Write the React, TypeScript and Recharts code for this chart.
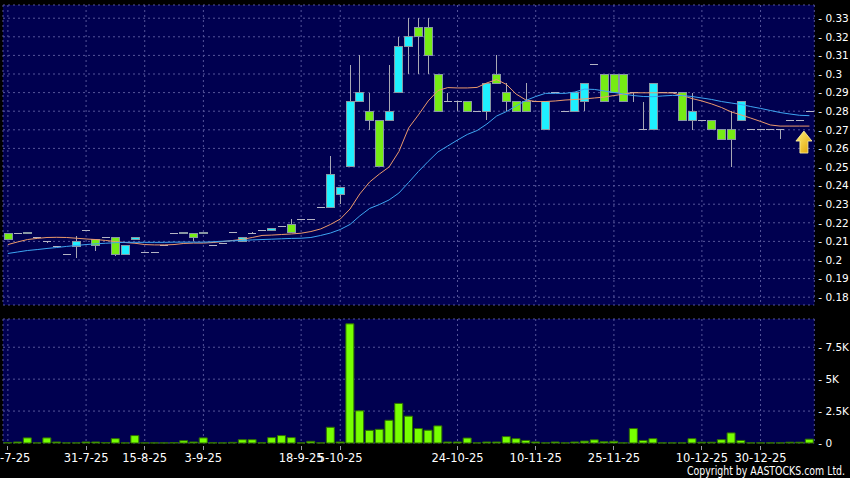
import { ComposedChart, Bar, Line, XAxis, YAxis, CartesianGrid, ReferenceDot } from "recharts";

// trading days shown on the chart (one slot per day)
const dates = [
  "21-7-25", "22-7-25", "23-7-25", "24-7-25", "25-7-25", "28-7-25", "29-7-25", "30-7-25", "31-7-25", "1-8-25",
  "4-8-25", "6-8-25", "8-8-25", "12-8-25", "15-8-25", "18-8-25", "20-8-25", "22-8-25", "26-8-25", "29-8-25",
  "3-9-25", "4-9-25", "5-9-25", "8-9-25", "9-9-25", "10-9-25", "11-9-25", "12-9-25", "15-9-25", "16-9-25",
  "18-9-25", "24-9-25", "29-9-25", "2-10-25", "5-10-25", "8-10-25", "9-10-25", "10-10-25", "13-10-25", "14-10-25",
  "15-10-25", "16-10-25", "17-10-25", "20-10-25", "21-10-25", "22-10-25", "24-10-25", "27-10-25", "28-10-25", "30-10-25",
  "31-10-25", "3-11-25", "5-11-25", "6-11-25", "10-11-25", "11-11-25", "12-11-25", "13-11-25", "14-11-25", "17-11-25",
  "19-11-25", "21-11-25", "25-11-25", "26-11-25", "27-11-25", "28-11-25", "1-12-25", "2-12-25", "3-12-25", "5-12-25",
  "8-12-25", "10-12-25", "11-12-25", "12-12-25", "15-12-25", "16-12-25", "23-12-25", "30-12-25", "2-1-26", "5-1-26",
  "6-1-26", "7-1-26", "8-1-26",
];

const tickDates = ["21-7-25", "31-7-25", "15-8-25", "3-9-25", "18-9-25", "5-10-25", "24-10-25", "10-11-25", "25-11-25", "10-12-25", "30-12-25"];

const open = [
  0.214, 0.214, 0.214, 0.212, 0.210, 0.207, 0.203, 0.207, 0.216, 0.211,
  0.212, 0.212, 0.203, 0.211, 0.204, 0.204, 0.208, 0.214, 0.214, 0.214,
  0.214, 0.208, 0.209, 0.215, 0.210, 0.214, 0.216, 0.216, 0.218, 0.219,
  0.222, 0.222, 0.228, 0.228, 0.235, 0.250, 0.285, 0.280, 0.275, 0.275,
  0.290, 0.315, 0.325, 0.325, 0.300, 0.285, 0.285, 0.285, 0.280, 0.280,
  0.300, 0.290, 0.285, 0.285, 0.285, 0.270, 0.290, 0.280, 0.280, 0.285,
  0.305, 0.300, 0.300, 0.300, 0.290, 0.270, 0.270, 0.290, 0.290, 0.290,
  0.275, 0.275, 0.275, 0.270, 0.270, 0.275, 0.270, 0.270, 0.270, 0.270,
  0.275, 0.275, 0.280,
];
const high = [
  0.214, 0.214, 0.215, 0.212, 0.210, 0.207, 0.203, 0.213, 0.216, 0.211,
  0.212, 0.212, 0.208, 0.212, 0.204, 0.204, 0.208, 0.214, 0.215, 0.214,
  0.215, 0.208, 0.209, 0.215, 0.212, 0.215, 0.216, 0.217, 0.218, 0.222,
  0.222, 0.222, 0.228, 0.256, 0.239, 0.305, 0.310, 0.290, 0.275, 0.305,
  0.320, 0.330, 0.330, 0.330, 0.300, 0.290, 0.285, 0.285, 0.280, 0.295,
  0.310, 0.295, 0.285, 0.295, 0.285, 0.285, 0.290, 0.280, 0.290, 0.295,
  0.305, 0.300, 0.300, 0.300, 0.290, 0.285, 0.295, 0.290, 0.290, 0.290,
  0.290, 0.275, 0.275, 0.270, 0.280, 0.285, 0.270, 0.270, 0.270, 0.270,
  0.275, 0.275, 0.280,
];
const low = [
  0.211, 0.214, 0.214, 0.212, 0.209, 0.207, 0.203, 0.201, 0.216, 0.205,
  0.212, 0.202, 0.203, 0.211, 0.204, 0.204, 0.208, 0.214, 0.214, 0.210,
  0.214, 0.208, 0.209, 0.215, 0.210, 0.214, 0.216, 0.216, 0.218, 0.215,
  0.222, 0.222, 0.228, 0.228, 0.230, 0.250, 0.285, 0.270, 0.250, 0.275,
  0.290, 0.300, 0.300, 0.300, 0.280, 0.285, 0.280, 0.280, 0.280, 0.275,
  0.295, 0.280, 0.280, 0.280, 0.285, 0.270, 0.290, 0.280, 0.280, 0.280,
  0.305, 0.285, 0.290, 0.285, 0.285, 0.270, 0.270, 0.290, 0.290, 0.275,
  0.270, 0.275, 0.270, 0.265, 0.250, 0.275, 0.270, 0.270, 0.270, 0.265,
  0.275, 0.275, 0.280,
];
const close = [
  0.211, 0.214, 0.215, 0.212, 0.210, 0.207, 0.203, 0.210, 0.216, 0.208,
  0.212, 0.203, 0.208, 0.212, 0.204, 0.204, 0.208, 0.214, 0.215, 0.212,
  0.215, 0.208, 0.209, 0.215, 0.212, 0.214, 0.216, 0.217, 0.218, 0.215,
  0.222, 0.222, 0.228, 0.246, 0.239, 0.285, 0.290, 0.275, 0.250, 0.280,
  0.315, 0.320, 0.320, 0.310, 0.280, 0.285, 0.285, 0.280, 0.280, 0.295,
  0.295, 0.285, 0.280, 0.280, 0.285, 0.285, 0.290, 0.280, 0.290, 0.295,
  0.305, 0.285, 0.290, 0.285, 0.290, 0.270, 0.295, 0.290, 0.290, 0.275,
  0.280, 0.275, 0.270, 0.265, 0.265, 0.285, 0.270, 0.270, 0.270, 0.270,
  0.275, 0.275, 0.280,
];

// moving averages (orange = short, blue = long)
const maShort = [
  0.2083, 0.2097, 0.2110, 0.2116, 0.2121, 0.2122, 0.2121, 0.2117, 0.2113, 0.2110,
  0.2105, 0.2099, 0.2094, 0.2090, 0.2083, 0.2081, 0.2081, 0.2083, 0.2089, 0.2091,
  0.2091, 0.2094, 0.2099, 0.2105, 0.2111, 0.2121, 0.2132, 0.2134, 0.2137, 0.2140,
  0.2144, 0.2153, 0.2167, 0.2191, 0.2220, 0.2274, 0.2355, 0.2419, 0.2462, 0.2500,
  0.2583, 0.2710, 0.2780, 0.2855, 0.2911, 0.2927, 0.2925, 0.2925, 0.2928, 0.2952,
  0.2970, 0.2944, 0.2892, 0.2860, 0.2852, 0.2852, 0.2855, 0.2860, 0.2863, 0.2866,
  0.2871, 0.2876, 0.2884, 0.2892, 0.2899, 0.2899, 0.2899, 0.2899, 0.2898, 0.2884,
  0.2868, 0.2855, 0.2839, 0.2820, 0.2796, 0.2780, 0.2763, 0.2745, 0.2726, 0.2720,
  0.2720, 0.2720, 0.2720,
];
const maLong = [
  0.2035, 0.2043, 0.2051, 0.2056, 0.2062, 0.2067, 0.2073, 0.2078, 0.2083, 0.2087,
  0.2090, 0.2093, 0.2095, 0.2095, 0.2095, 0.2095, 0.2095, 0.2096, 0.2096, 0.2096,
  0.2096, 0.2098, 0.2101, 0.2103, 0.2105, 0.2108, 0.2110, 0.2112, 0.2114, 0.2116,
  0.2117, 0.2121, 0.2132, 0.2145, 0.2164, 0.2191, 0.2237, 0.2277, 0.2298, 0.2323,
  0.2360, 0.2417, 0.2476, 0.2530, 0.2581, 0.2613, 0.2645, 0.2675, 0.2696, 0.2731,
  0.2774, 0.2798, 0.2828, 0.2858, 0.2879, 0.2896, 0.2896, 0.2896, 0.2903, 0.2919,
  0.2917, 0.2909, 0.2901, 0.2892, 0.2884, 0.2879, 0.2878, 0.2882, 0.2885, 0.2884,
  0.2879, 0.2871, 0.2863, 0.2852, 0.2844, 0.2836, 0.2825, 0.2815, 0.2804, 0.2793,
  0.2785, 0.2778, 0.2776,
];

const volume = [
  30, 80, 400, 10, 400, 80, 10, 10, 80, 80,
  30, 340, 10, 580, 10, 10, 10, 30, 180, 80,
  400, 20, 10, 50, 260, 260, 20, 420, 580, 420,
  10, 130, 10, 1230, 80, 9330, 2520, 990, 1070, 1780,
  3100, 2100, 1130, 1000, 1340, 80, 80, 390, 10, 80,
  80, 500, 340, 200, 80, 10, 80, 10, 80, 150,
  250, 100, 130, 10, 1130, 200, 340, 10, 10, 10,
  340, 60, 60, 260, 790, 200, 10, 10, 10, 10,
  60, 60, 300,
];

const priceTicks = [0.18, 0.19, 0.2, 0.21, 0.22, 0.23, 0.24, 0.25, 0.26, 0.27, 0.28, 0.29, 0.3, 0.31, 0.32, 0.33];
const volTicks = [0, 2500, 5000, 7500];

const Y_MIN = 0.1758;
const Y_MAX = 0.3371;
const V_MAX = 9710;

const rows = dates.map((date, i) => ({
  date,
  o: open[i],
  h: high[i],
  l: low[i],
  c: close[i],
  ma1: maShort[i],
  ma2: maLong[i],
  vol: volume[i],
}));

const FONT = "DejaVu Sans, Verdana, sans-serif";
const PLOT_BG = "#000050";
const GRID = "#55559a";

// bar runs from the axis floor up to the high, so the y scale can be recovered from it
function Candle(props: any) {
  const { x, y, width, height, payload } = props;
  if (x == null || !payload) return null;
  const { o, h, l, c } = payload;
  const k = height / (h - Y_MIN);
  const py = (p: number) => y + (h - p) * k;
  const cx = x + width / 2;
  const left = x + 1;
  const w = width - 2;
  const wick =
    h > l ? (
      <line x1={cx} x2={cx} y1={py(h)} y2={py(l)} stroke="#a8a8b4" shapeRendering="crispEdges" />
    ) : null;
  if (o === c) {
    return (
      <g>
        {wick}
        <line x1={left} x2={left + w} y1={py(o)} y2={py(o)} stroke="#b4b4c4" shapeRendering="crispEdges" />
      </g>
    );
  }
  const up = c > o;
  const top = py(Math.max(o, c));
  const bot = py(Math.min(o, c));
  return (
    <g>
      {wick}
      <rect
        x={left}
        y={top}
        width={w}
        height={bot - top}
        fill={up ? "#1ff0ff" : "#76ec14"}
        stroke="#8898a4"
        shapeRendering="crispEdges"
      />
    </g>
  );
}

function Arrow(props: any) {
  const { cx, cy } = props;
  if (cx == null) return null;
  const ax = cx - 5.5;
  const pts = [
    [ax, cy - 11],
    [ax + 8, cy - 1],
    [ax + 4, cy - 1],
    [ax + 4, cy + 11],
    [ax - 4, cy + 11],
    [ax - 4, cy - 1],
    [ax - 8, cy - 1],
  ]
    .map((p) => p.join(","))
    .join(" ");
  return (
    <g>
      <defs>
        <linearGradient id="arrowFill" x1="0" y1="0" x2="1" y2="1">
          <stop offset="0%" stopColor="#fff27a" />
          <stop offset="100%" stopColor="#e0a000" />
        </linearGradient>
      </defs>
      <polygon points={pts} fill="url(#arrowFill)" stroke="#fff4a8" strokeWidth={0.8} />
    </g>
  );
}

function DateTick(props: any) {
  const { x, y, payload } = props;
  return (
    <g>
      <line x1={x} x2={x} y1={y + 3} y2={y + 7} stroke="#9a9aa8" shapeRendering="crispEdges" />
      <text x={x} y={y + 18.5} textAnchor="middle" fill="#ffffff" fontSize={11.5} fontFamily={FONT}>
        {payload.value}
      </text>
    </g>
  );
}

// plain text so the "- 0.33" style labels never wrap
function ValueTick(props: any) {
  const { x, y, payload, fmt } = props;
  return (
    <text x={x} y={y} dy={3.8} textAnchor="start" fill="#ffffff" fontSize={10.5} fontFamily={FONT}>
      {fmt(payload.value)}
    </text>
  );
}

const priceLabel = (v: number) => `- ${v}`;
const volLabel = (v: number) => (v === 0 ? "- 0" : `- ${v / 1000}K`);

export default function App() {
  return (
    <div style={{ position: "relative", width: 850, height: 478, background: "#000", overflow: "hidden" }}>
      <style>{"body{margin:0;background:#000}"}</style>
      <div style={{ position: "absolute", left: 0, top: 0 }}>
        <ComposedChart
          width={850}
          height={312}
          data={rows}
          margin={{ top: 5, right: 0, bottom: 7, left: 3 }}
          barCategoryGap={0}
        >
          <CartesianGrid fill={PLOT_BG} stroke={GRID} strokeDasharray="2 3" />
          <XAxis dataKey="date" ticks={tickDates} interval={0} hide />
          <YAxis
            orientation="right"
            width={35.7}
            domain={[Y_MIN, Y_MAX]}
            ticks={priceTicks}
            interval={0}
            axisLine={false}
            tickLine={false}
            tickSize={0}
            tickMargin={4}
            tick={(p: any) => <ValueTick {...p} fmt={priceLabel} />}
          />
          <Bar dataKey="h" shape={(p: any) => <Candle {...p} />} isAnimationActive={false} />
          <Line
            type="linear"
            dataKey="ma1"
            stroke="#ec9a6c"
            strokeWidth={1}
            dot={false}
            activeDot={false}
            isAnimationActive={false}
          />
          <Line
            type="linear"
            dataKey="ma2"
            stroke="#3ea6f2"
            strokeWidth={1}
            dot={false}
            activeDot={false}
            isAnimationActive={false}
          />
          <ReferenceDot x={dates[dates.length - 1]} y={0.2634} r={0} shape={(p: any) => <Arrow {...p} />} />
        </ComposedChart>
      </div>
      <div style={{ position: "absolute", left: 0, top: 312 }}>
        <ComposedChart
          width={850}
          height={166}
          data={rows}
          margin={{ top: 7, right: 0, bottom: 0, left: 3 }}
          barCategoryGap={0.75}
        >
          <CartesianGrid fill={PLOT_BG} stroke={GRID} strokeDasharray="2 3" />
          <XAxis
            dataKey="date"
            ticks={tickDates}
            interval={0}
            height={35}
            axisLine={false}
            tickLine={false}
            tickSize={0}
            tickMargin={0}
            tick={(p: any) => <DateTick {...p} />}
          />
          <YAxis
            orientation="right"
            width={35.7}
            domain={[0, V_MAX]}
            ticks={volTicks}
            interval={0}
            axisLine={false}
            tickLine={false}
            tickSize={0}
            tickMargin={4}
            tick={(p: any) => <ValueTick {...p} fmt={volLabel} />}
          />
          <Bar dataKey="vol" fill="#77ff00" stroke="#2f6f00" isAnimationActive={false} />
        </ComposedChart>
      </div>
      <svg width={850} height={18} style={{ position: "absolute", left: 0, top: 460 }}>
        <text
          x={845}
          y={14.5}
          textAnchor="end"
          fill="#ffffff"
          fontSize={11.5}
          fontFamily={FONT}
          textLength={158}
          lengthAdjust="spacingAndGlyphs"
        >
          Copyright by AASTOCKS.com Ltd.
        </text>
      </svg>
    </div>
  );
}
